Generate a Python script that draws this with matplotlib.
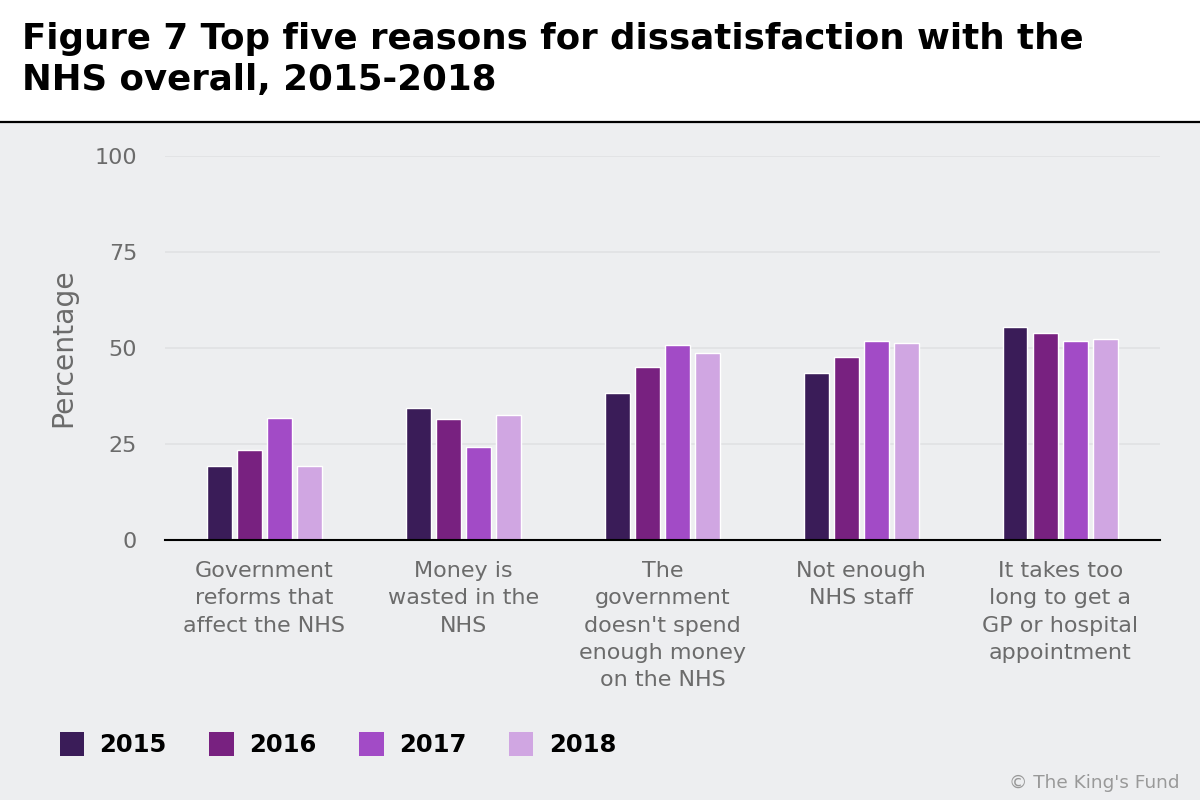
import numpy as np
import matplotlib.pyplot as plt
from matplotlib.patches import Patch, Rectangle

categories = [
    "Government\nreforms that\naffect the NHS",
    "Money is\nwasted in the\nNHS",
    "The\ngovernment\ndoesn't spend\nenough money\non the NHS",
    "Not enough\nNHS staff",
    "It takes too\nlong to get a\nGP or hospital\nappointment",
]
years = ["2015", "2016", "2017", "2018"]
v2015 = [19.4, 34.5, 38.2, 43.4, 55.4]
v2016 = [23.5, 31.4, 45.0, 47.6, 53.8]
v2017 = [31.9, 24.1, 50.7, 51.7, 51.7]
v2018 = [19.4, 32.5, 48.6, 51.2, 52.3]
yticks = [0, 25, 50, 75, 100]

colors = ["#3a1c58", "#782180", "#a24bc6", "#d0a6e2"]
bg = "#edeef0"
grey = "#6b6b6b"

fig = plt.figure(figsize=(12, 8), dpi=100, facecolor=bg)
fig.add_artist(Rectangle((0, 0.8475), 1, 0.1525, transform=fig.transFigure,
                         facecolor="white", edgecolor="none", zorder=0))
fig.add_artist(plt.Line2D([0, 1], [0.8475, 0.8475], transform=fig.transFigure,
                          color="black", linewidth=1.6))
fig.text(0.018, 0.926, "Figure 7 Top five reasons for dissatisfaction with the\nNHS overall, 2015-2018",
         fontsize=25.7, fontweight="bold", va="center", ha="left", linespacing=1.25)

ax = fig.add_axes([0.1375, 0.325, 0.829, 0.48])
ax.set_facecolor(bg)

x = np.arange(len(categories))
step = 0.151
width = 0.123
series = [v2015, v2016, v2017, v2018]
for i, (vals, c, yr) in enumerate(zip(series, colors, years)):
    ax.bar(x + (i - 1.5) * step, vals, width, color=c, edgecolor="white",
           linewidth=1.0, label=yr, zorder=3)

ax.set_xlim(-0.5, 4.5)
ax.set_ylim(0, 100)
ax.set_yticks(yticks)
ax.set_xticks(x)
ax.set_xticklabels(categories, fontsize=16, color=grey, linespacing=1.46)
ax.tick_params(axis="y", length=0, pad=20, labelsize=16, labelcolor=grey)
ax.tick_params(axis="x", length=0, pad=15)
ax.grid(axis="y", color="#e0e1e3", linewidth=1.2, zorder=0)
for s in ["top", "right", "left"]:
    ax.spines[s].set_visible(False)
ax.spines["bottom"].set_color("black")
ax.spines["bottom"].set_linewidth(1.5)
ax.spines["bottom"].set_zorder(4)
ax.set_ylabel("Percentage", fontsize=20.3, color=grey)
ax.yaxis.set_label_coords(-0.088, 0.5)

handles = [Patch(facecolor=c, edgecolor="none") for c in colors]
leg = fig.legend(handles, years, loc="center left", bbox_to_anchor=(0.0315, 0.069),
                 ncol=4, frameon=False, handlelength=1.0, handleheight=1.15,
                 handletextpad=0.64, columnspacing=1.75,
                 prop={"size": 17.5, "weight": "bold"})

fig.text(0.983, 0.021, "\u00a9 The King's Fund", fontsize=13.3, color="#999999",
         ha="right", va="center")

fig.savefig("out.png", dpi=100, facecolor=bg)
